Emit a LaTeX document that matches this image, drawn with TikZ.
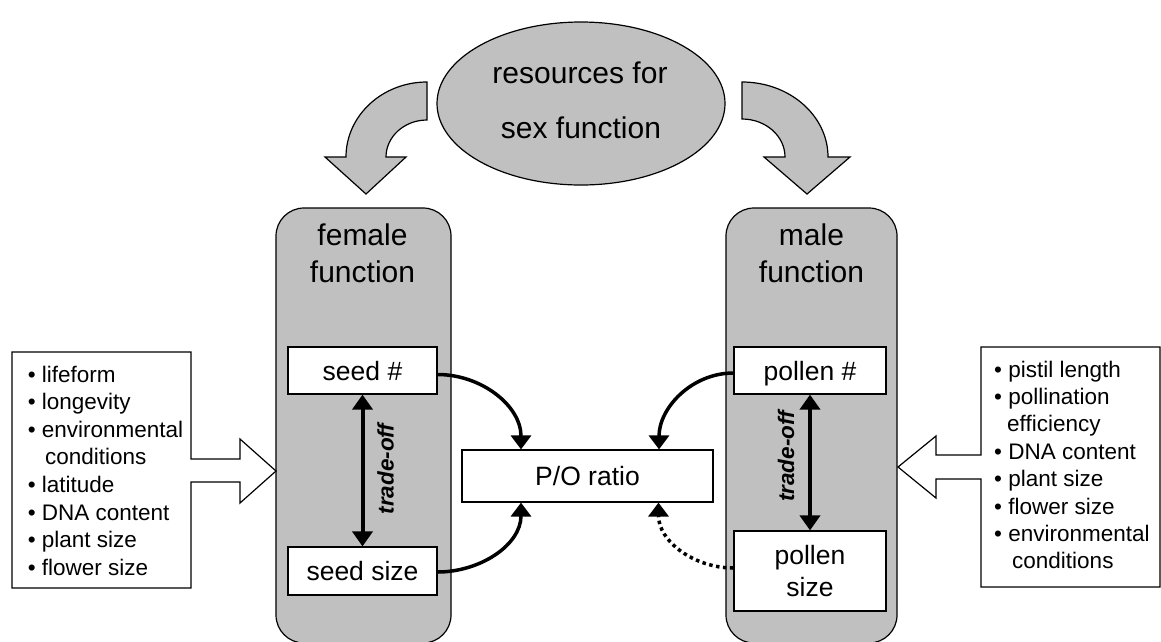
\documentclass[tikz,border=0pt]{standalone}
\usepackage{fontspec}
\setmainfont{Liberation Sans}
\usetikzlibrary{arrows.meta,shapes.geometric}
\definecolor{shade}{RGB}{192,192,192}
\begin{document}
\begin{tikzpicture}[x=1pt,y=1pt,
  graybig/.style={draw=black,fill=shade,line width=1.2pt,line join=miter},
  funcbox/.style={draw=black,fill=shade,line width=1.2pt,rounded corners=28pt,minimum height=435pt,inner sep=0pt},
  wbox/.style={draw=black,fill=white,line width=1.2pt,inner sep=0pt,font=\fontsize{26.5}{32}\selectfont,text height=19pt,text depth=0pt},
  wboxtwo/.style={draw=black,fill=white,line width=1.2pt,inner sep=0pt,align=center,font=\fontsize{26.5}{32}\selectfont},
  headtext/.style={anchor=base,inner sep=0pt,font=\fontsize{30}{36}\selectfont},
  listbox/.style={draw=black,fill=white,line width=1.2pt,line join=miter},
  listtext/.style={anchor=base west,inner sep=0pt,font=\fontsize{22.5}{27}\selectfont},
  tradetext/.style={rotate=90,inner sep=0pt,font=\fontsize{22.5}{27}\selectfont\bfseries\itshape},
  conn/.style={line width=3.5pt,-{Triangle[width=20pt,length=14pt]}},
  dotconn/.style={dash pattern=on 3.5pt off 3.5pt},
  tradearrow/.style={line width=4pt,{Triangle[width=20pt,length=15pt]}-{Triangle[width=20pt,length=15pt]}}
]
\useasboundingbox (0,0) rectangle (1161,-641);

% resources ellipse and curved arrows
\path[graybig] (427,-82) .. controls (382.3,-82) and (346,-115.6) .. (346,-157) -- (325,-157) -- (366,-194) -- (406,-157) -- (386,-157) .. controls (386,-136.6) and (404.4,-120) .. (427,-120) -- cycle;
\path[graybig] (742,-82) .. controls (789.5,-82) and (828,-115.6) .. (828,-157) -- (850,-157) -- (807,-194) -- (764,-157) -- (785,-157) .. controls (785,-136) and (765.7,-119) .. (742,-119) -- cycle;
\node[ellipse,draw=black,fill=shade,line width=1.2pt,minimum width=288pt,minimum height=163pt,inner sep=0pt] (res) at (581,-103.5) {};
\node[headtext] (res1) at (580,-83) {resources for};
\node[headtext] (res2) at (581,-138) {sex function};

% function columns
\node[funcbox,minimum width=175pt] (fem) at (363.5,-425.5) {};
\node[funcbox,minimum width=171pt] (mal) at (811.5,-425.5) {};
\node[headtext] (fem1) at (362.5,-245) {female};
\node[headtext] (fem2) at (362.5,-282) {function};
\node[headtext] (mal1) at (811.5,-245) {male};
\node[headtext] (mal2) at (811.5,-282) {function};

% white boxes
\node[wbox,minimum width=149pt,minimum height=47pt] (seedn) at (362.5,-370.5) {seed \#};
\node[wbox,minimum width=149pt,minimum height=48pt] (seeds) at (362.5,-571) {seed size};
\node[wbox,minimum width=152pt,minimum height=47pt] (polln) at (810,-370.5) {pollen \#};
\node[wboxtwo,minimum width=152pt,minimum height=80pt] (polls) at (810,-571) {pollen\\size};
\node[wbox,minimum width=251pt,minimum height=52pt] (po) at (587.5,-476) {P/O ratio};

% trade-offs
\draw[tradearrow] (seedn.south) -- (seeds.north);
\draw[tradearrow] (polln.south) -- (polls.north);
\node[tradetext] (to1) at (385.5,-469) {trade-off};
\node[tradetext] (to2) at (786,-456.5) {trade-off};

% connectors to P/O ratio
\draw[conn] ([yshift=-4pt]seedn.east) to[out=0,in=90] ([xshift=-66.5pt]po.north);
\draw[conn] ([yshift=-1pt]seeds.east) to[out=0,in=-90] ([xshift=-66.5pt]po.south);
\draw[conn] ([yshift=-2.5pt]polln.west) to[out=180,in=90] ([xshift=71.5pt]po.north);
\draw[conn,dotconn] ([yshift=3pt]polls.west) to[out=180,in=-90] ([xshift=71pt]po.south);

% left list with arrow
\path[listbox] (12,-352) -- (191,-352) -- (191,-459) -- (240,-459) -- (240,-439) -- (276,-471) -- (240,-503) -- (240,-482) -- (191,-482) -- (191,-588) -- (12,-588) -- cycle;
\node[listtext] (la) at (27.6,-382) {• lifeform};
\node[listtext] (lb) at (27.6,-409.6) {• longevity};
\node[listtext] (lc) at (27.6,-437.2) {• environmental};
\node[listtext] (ld) at (45,-464.8) {conditions};
\node[listtext] (le) at (27.6,-492.4) {• latitude};
\node[listtext] (lf) at (27.6,-520) {• DNA content};
\node[listtext] (lg) at (27.6,-547.6) {• plant size};
\node[listtext] (lh) at (27.6,-575.2) {• flower size};

% right list with arrow
\path[listbox] (981,-347) -- (1160,-347) -- (1160,-587) -- (981,-587) -- (981,-479) -- (936,-479) -- (936,-498) -- (898,-467) -- (936,-436) -- (936,-455) -- (981,-455) -- cycle;
\node[listtext] (ra) at (994,-377) {• pistil length};
\node[listtext] (rb) at (994,-404.4) {• pollination};
\node[listtext] (rc) at (1007,-431.8) {efficiency};
\node[listtext] (rd) at (994,-459.2) {• DNA content};
\node[listtext] (re) at (994,-486.6) {• plant size};
\node[listtext] (rf) at (994,-514) {• flower size};
\node[listtext] (rg) at (994,-541.4) {• environmental};
\node[listtext] (rh) at (1012,-568.8) {conditions};
\end{tikzpicture}
\end{document}
